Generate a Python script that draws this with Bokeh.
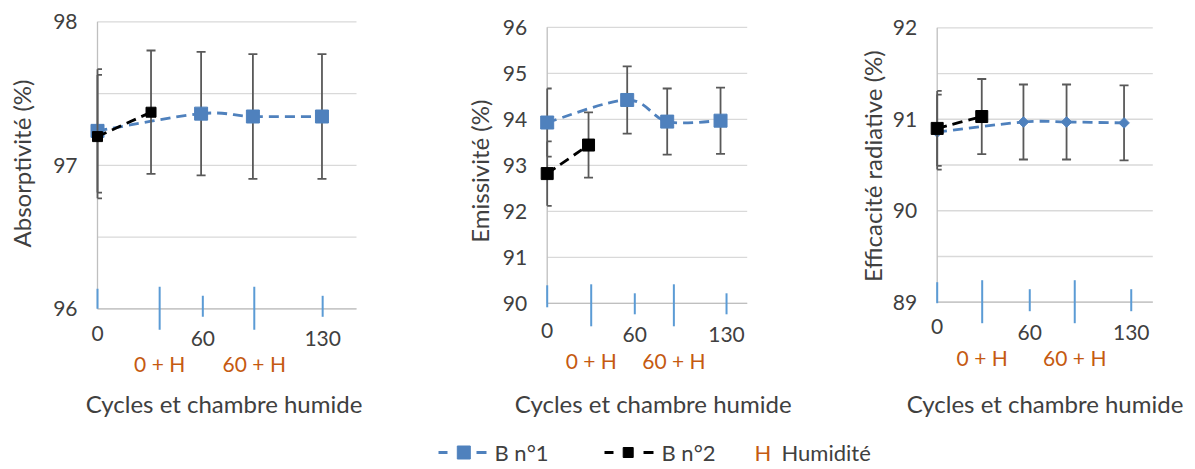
import math
from bokeh.plotting import figure
from bokeh.models import Range1d
from bokeh.embed import file_html
from bokeh.resources import INLINE
from bokeh.core.properties import value

# ---------------- data ----------------
x_b1 = [0, 60, 90, 130]          # B n°1 : 0, 60, 60+H, 130
x_b2 = [0, 31]                   # B n°2 : 0, 0+H

abs_b1 = [97.24, 97.36, 97.34, 97.34]
abs_b1_err = [0.43, 0.43, 0.435, 0.435]
abs_b2 = [97.20, 97.37]
abs_b2_err = [0.43, 0.43]

emi_b1 = [93.93, 94.42, 93.95, 93.97]
emi_b1_err = [0.74, 0.73, 0.72, 0.72]
emi_b2 = [92.82, 93.44]
emi_b2_err = [0.70, 0.71]

eff_b1 = [90.86, 90.97, 90.97, 90.96]
eff_b1_err = [0.41, 0.41, 0.41, 0.41]
eff_b2 = [90.90, 91.03]
eff_b2_err = [0.41, 0.41]

cat_labels = ["0", "0 + H", "60", "60 + H", "130"]
cat_humid = [False, True, False, True, False]
abs_cat_pos = [0, 36, 61, 90.8, 130.4]
emi_cat_pos = [0, 33, 65.7, 95, 134.5]
eff_cat_pos = [0, 31.3, 64.4, 95.7, 135]

abs_yticks = [96, 97, 98]
abs_ygrid = [96, 96.5, 97, 97.5, 98]
emi_yticks = [90, 91, 92, 93, 94, 95, 96]
emi_ygrid = [90, 91, 92, 93, 94, 95, 96]
eff_yticks = [89, 90, 91, 92]
eff_ygrid = [89, 89.5, 90, 90.5, 91, 91.5, 92]

y_titles = ["Absorptivité (%)", "Emissivité (%)", "Efficacité radiative (%)"]
x_title = "Cycles et chambre humide"
legend_labels = ["B n°1", "B n°2", "Humidité"]
humid_symbol = "H"
X_MAX = 150

# ---------------- style ----------------
FONT = value("Lato")
TXT = "#404040"
BLUE = "#4F81BD"
TICKBLUE = "#5B9BD5"
ORANGE = "#C55A11"
ERR = "#595959"
GRID = "#D9D9D9"
AXIS = "#BFBFBF"
TICK_FS = value("21px")
TITLE_FS = value("24px")
LEG_FS = value("22px")

# canvas geometry in screen px
PX0, PX1, PY0, PY1 = 0, 1190, 0, 466

p = figure(width=PX1 - PX0, height=PY1 - PY0,
           x_range=Range1d(PX0, PX1), y_range=Range1d(PY1, PY0),
           output_backend="svg", toolbar_location=None,
           x_axis_location=None, y_axis_location=None,
           min_border_left=0, min_border_right=0, min_border_top=0, min_border_bottom=0)
p.outline_line_color = None
p.grid.visible = False


def smooth_segments(xs, ys):
    n = len(xs)
    out = {k: [] for k in ["x0", "y0", "x1", "y1", "cx0", "cy0", "cx1", "cy1"]}
    for i in range(n - 1):
        i0 = max(i - 1, 0)
        i3 = min(i + 2, n - 1)
        out["x0"].append(xs[i]); out["y0"].append(ys[i])
        out["x1"].append(xs[i + 1]); out["y1"].append(ys[i + 1])
        out["cx0"].append(xs[i] + (xs[i + 1] - xs[i0]) / 6)
        out["cy0"].append(ys[i] + (ys[i + 1] - ys[i0]) / 6)
        out["cx1"].append(xs[i + 1] - (xs[i3] - xs[i]) / 6)
        out["cy1"].append(ys[i + 1] - (ys[i3] - ys[i]) / 6)
    return out


def build_panel(k, cfg, b1, b1e, b2, b2e, cat_pos, yticks, ygrid, ytitle, diamond):
    ppx, ppy = cfg["ppx"], cfg["ppy"]
    ymin, ymax = min(ygrid), max(ygrid)
    xr, yr = "x%d" % k, "y%d" % k
    p.extra_x_ranges[xr] = Range1d((PX0 - cfg["axis_px"]) / ppx, (PX1 - cfg["axis_px"]) / ppx)
    p.extra_y_ranges[yr] = Range1d(ymax - (PY1 - cfg["top_py"]) / ppy,
                                   ymax + (cfg["top_py"] - PY0) / ppy)
    R = dict(x_range_name=xr, y_range_name=yr)

    def Y(py):
        return ymax - (py - cfg["top_py"]) / ppy

    bottom_py = cfg["top_py"] + (ymax - ymin) * ppy

    # gridlines and axis lines
    p.segment(x0=[0] * len(ygrid), y0=ygrid, x1=[X_MAX] * len(ygrid), y1=ygrid,
              line_color=GRID, line_width=1.3, **R)
    p.segment(x0=[0], y0=[ymin], x1=[X_MAX], y1=[ymin], line_color=AXIS, line_width=1.3, **R)
    p.segment(x0=[0], y0=[ymin], x1=[0], y1=[ymax], line_color=AXIS, line_width=1.3, **R)

    # y tick labels
    p.text(x=[-20 / ppx] * len(yticks), y=yticks, text=[str(t) for t in yticks],
           text_align="right", text_baseline="middle", text_font=FONT,
           text_font_size=TICK_FS, text_color=TXT, **R)

    # category ticks (blue)
    up, down = [], []
    for i, h in enumerate(cat_humid):
        if i == 0:
            up.append(cfg["t0"][0]); down.append(cfg["t0"][1])
        elif h:
            up.append(cfg["tl"][0]); down.append(cfg["tl"][1])
        else:
            up.append(cfg["ts"][0]); down.append(cfg["ts"][1])
    p.segment(x0=cat_pos, y0=[ymin - d / ppy for d in down],
              x1=cat_pos, y1=[ymin + u / ppy for u in up],
              line_color=TICKBLUE, line_width=2, **R)

    # series
    def draw(xs, ys, es, color, marker, size, angle):
        lo = [y - e for y, e in zip(ys, es)]
        hi = [y + e for y, e in zip(ys, es)]
        p.segment(x0=xs, y0=lo, x1=xs, y1=hi, line_color=ERR, line_width=1.8, **R)
        cap_l = [x - 4.5 / ppx if x > 0 else x for x in xs]
        cap_r = [x + 4.5 / ppx for x in xs]
        p.segment(x0=cap_l + cap_l, y0=lo + hi, x1=cap_r + cap_r, y1=lo + hi,
                  line_color=ERR, line_width=1.8, **R)
        seg = smooth_segments(xs, ys)
        p.bezier(source=seg, x0="x0", y0="y0", x1="x1", y1="y1",
                 cx0="cx0", cy0="cy0", cx1="cx1", cy1="cy1",
                 line_color=color, line_width=2.8, line_dash="10 6", **R)
        p.scatter(xs, ys, marker=marker, size=size, angle=angle,
                  fill_color=color, line_color=color, **R)

    if diamond:
        draw(x_b1, b1, b1e, BLUE, "square", 7.5, math.pi / 4)
    else:
        draw(x_b1, b1, b1e, BLUE, "square", 13, 0)
    draw(x_b2, b2, b2e, "#000000", "square", cfg["b2size"], 0)

    # x category labels
    ys_lab, cols = [], []
    for i, h in enumerate(cat_humid):
        if h:
            ys_lab.append(Y(bottom_py + cfg["hum_dy"])); cols.append(ORANGE)
        elif i == 0:
            ys_lab.append(Y(bottom_py + cfg["lab0_dy"])); cols.append(TXT)
        else:
            ys_lab.append(Y(bottom_py + cfg["lab_dy"])); cols.append(TXT)
    p.text(x=cat_pos, y=ys_lab, text=cat_labels, text_color=cols,
           text_align="center", text_baseline="middle", text_font=FONT,
           text_font_size=TICK_FS, **R)

    # axis titles
    p.text(x=[X_MAX / 2 + cfg["xt_dx"] / ppx], y=[Y(403)], text=[x_title],
           text_align="center", text_baseline="middle", text_font=FONT,
           text_font_size=TITLE_FS, text_color=TXT, **R)
    p.text(x=[(cfg["yt_cx"] - cfg["axis_px"]) / ppx], y=[Y(cfg["yt_cy"])], text=[ytitle],
           angle=math.pi / 2, text_align="center", text_baseline="middle", text_font=FONT,
           text_font_size=TITLE_FS, text_color=TXT, **R)


cfg1 = dict(axis_px=97, ppx=259 / 150, top_py=21.3, ppy=143.5,
            lab0_dy=24.7, lab_dy=29.7, hum_dy=54.4, xt_dx=-3, yt_cx=21, yt_cy=163, b2size=10,
            t0=(20, 0), tl=(22, 21), ts=(13, 8))
cfg2 = dict(axis_px=546.7, ppx=200 / 150, top_py=26.8, ppy=46,
            lab0_dy=27.2, lab_dy=31.5, hum_dy=57.2, xt_dx=6, yt_cx=479, yt_cy=170.7, b2size=12,
            t0=(18, 4), tl=(19, 23), ts=(10, 11))
cfg3 = dict(axis_px=936.7, ppx=215.6 / 150, top_py=27.3, ppy=91.47,
            lab0_dy=24.3, lab_dy=30, hum_dy=55, xt_dx=0, yt_cx=871.7, yt_cy=165.7, b2size=12,
            t0=(20, 1), tl=(22, 21), ts=(13, 9))

build_panel(1, cfg1, abs_b1, abs_b1_err, abs_b2, abs_b2_err, abs_cat_pos,
            abs_yticks, abs_ygrid, y_titles[0], False)
build_panel(2, cfg2, emi_b1, emi_b1_err, emi_b2, emi_b2_err, emi_cat_pos,
            emi_yticks, emi_ygrid, y_titles[1], False)
build_panel(3, cfg3, eff_b1, eff_b1_err, eff_b2, eff_b2_err, eff_cat_pos,
            eff_yticks, eff_ygrid, y_titles[2], True)

# ---------------- legend (screen px) ----------------
LY = 452
p.segment(x0=[438, 476], y0=[LY, LY], x1=[447, 486], y1=[LY, LY], line_color=BLUE, line_width=3)
p.scatter([463.3], [LY], marker="square", size=13, fill_color=BLUE, line_color=BLUE)
p.segment(x0=[604, 643], y0=[LY, LY], x1=[613, 653], y1=[LY, LY], line_color="#000000", line_width=3)
p.scatter([627.7], [LY], marker="square", size=10, fill_color="#000000", line_color="#000000")
p.text(x=[494, 661, 754, 781], y=[LY] * 4,
       text=[legend_labels[0], legend_labels[1], humid_symbol, legend_labels[2]],
       text_color=[TXT, TXT, ORANGE, TXT], text_align="left", text_baseline="middle",
       text_font=FONT, text_font_size=LEG_FS)

open("out.html", "w").write(file_html(p, INLINE))
